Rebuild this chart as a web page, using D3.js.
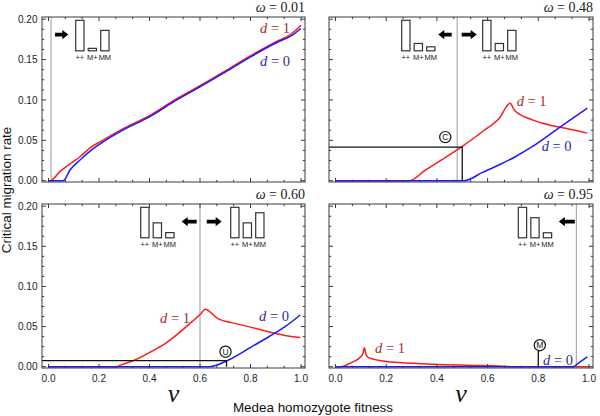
<!DOCTYPE html>
<html><head><meta charset="utf-8">
<script src="https://cdn.jsdelivr.net/npm/d3@7"></script>
<style>body{margin:0;background:#fff} svg{display:block}</style>
</head><body><svg id="c" width="600" height="416"></svg>
<script>
// ---------- data ----------
const omegas = [0.01, 0.48, 0.60, 0.95];
const omegaLabels = ["0.01", "0.48", "0.60", "0.95"];
const xTicks = [0, 0.2, 0.4, 0.6, 0.8, 1.0];
const yTicks = [0, 0.05, 0.10, 0.15, 0.20];

const p1Red = [[0,0],[0.006,0],[0.046,0.0115],[0.086,0.021],[0.126,0.030],[0.166,0.041],[0.206,0.0485],[0.30,0.065],[0.405,0.0815],[0.50,0.100],[0.605,0.1185],[0.70,0.136],[0.804,0.1556],[0.90,0.172],[0.964,0.1823],[1.0,0.1926]];
const p1Blue = [[0,0],[0.058,0],[0.086,0.0136],[0.126,0.026],[0.166,0.037],[0.206,0.046],[0.30,0.0635],[0.405,0.080],[0.50,0.0985],[0.605,0.117],[0.70,0.1345],[0.804,0.154],[0.90,0.1705],[0.964,0.180],[1.0,0.1885]];
const p2Red = [[0,0],[0.29,0],[0.357,0.0136],[0.42,0.026],[0.50,0.0424],[0.58,0.0609],[0.646,0.0774],[0.689,0.0959],[0.705,0.0877],[0.777,0.0753],[0.843,0.0691],[0.908,0.065],[0.993,0.0589]];
const p2Blue = [[0,0],[0.508,0],[0.58,0.0103],[0.646,0.0198],[0.711,0.030],[0.777,0.0424],[0.843,0.0568],[0.908,0.0712],[0.993,0.0898]];
const p3Red = [[0,0],[0.27,0],[0.285,0.0019],[0.339,0.008],[0.405,0.0185],[0.472,0.031],[0.538,0.0478],[0.605,0.0665],[0.62,0.0715],[0.671,0.060],[0.738,0.054],[0.804,0.049],[0.871,0.0435],[0.937,0.039],[0.997,0.0365]];
const p3Blue = [[0,0],[0.638,0],[0.711,0.0081],[0.804,0.0248],[0.871,0.037],[0.937,0.0498],[0.997,0.0644]];
const p4Red = [[0,0],[0.02,0],[0.068,0.006],[0.10,0.0123],[0.108,0.016],[0.114,0.0235],[0.12,0.016],[0.127,0.012],[0.186,0.0072],[0.252,0.0053],[0.383,0.0031],[0.515,0.0019],[0.646,0.001],[0.70,0],[1.0,0]];
const p4Blue = [[0,0],[0.937,0],[0.965,0.006],[0.993,0.0123]];

const redCurves = [p1Red, p2Red, p3Red, p4Red];
const blueCurves = [p1Blue, p2Blue, p3Blue, p4Blue];

const markerLetters = [null, "C", "U", "M"];
const markerNu = [null, 0.50, 0.705, 0.80];
const markerM = [null, 0.0416, 0.0075, 0];

const genotypes = ["++", "M+", "MM"];
const insetHeights = [
  [[1, 0.08, 0.67]],
  [[1, 0.24, 0.13], [1, 0.24, 0.67]],
  [[1, 0.49, 0.17], [1, 0.49, 0.82]],
  [[1, 0.66, 0.165]]
];

// ---------- layout ----------
const svg = d3.select("#c");
const frames = [
  {x0: 42, x1: 305, y0: 17, y1: 182},
  {x0: 329, x1: 593, y0: 17, y1: 182},
  {x0: 42, x1: 305, y0: 204, y1: 368},
  {x0: 329, x1: 593, y0: 204, y1: 368}
];
const insetOffsets = [[24.7], [-55.5, 25.5], [-59.3, 30.7], [-58]];
const arrowOffsets = [[[4, 17.3]], [[-5.5, -18.9], [4.5, 19.5]], [[-3.3, -18.3], [6.7, 21.7]], [[-1.5, -17.5]]];
const dLabelPos = [
  {d1: [260, 33], d0: [260, 66]},
  {d1: [516.7, 106], d0: [541.7, 151]},
  {d1: [160, 323], d0: [259, 321]},
  {d1: [375, 353], d0: [543, 364.5]}
];
const markerOffset = [null, [-17, -10], [-1, -9], [1.5, -21.5]];

const sans = "'Liberation Sans', Arial, Helvetica, sans-serif";
const serif = "'Liberation Serif', 'Times New Roman', serif";
const frameColor = "#3a3a3a";

function arrowPath(tail, tip, y) {
  const s = Math.sign(tip - tail), hl = 6, hh = 4.6, sh = 1.9;
  const b = tip - s * hl;
  return `M${tail},${y - sh}L${b},${y - sh}L${b},${y - hh}L${tip},${y}L${b},${y + hh}L${b},${y + sh}L${tail},${y + sh}Z`;
}

frames.forEach((f, i) => {
  const x = d3.scaleLinear().domain([0, 1]).range([f.x0 + 6.5, f.x1 - 4]);
  const y = d3.scaleLinear().domain([0, 0.2]).range([f.y1 - 1.3, f.y0 + 2.2]);
  const g = svg.append("g");

  // omega vertical line
  const lx = x(omegas[i]);
  g.append("line").attr("x1", lx).attr("x2", lx).attr("y1", f.y0).attr("y2", f.y1)
    .attr("stroke", "#9a9a9a").attr("stroke-width", 1);

  // curves
  const line = d3.line().x(d => x(d[0])).y(d => y(d[1])).curve(d3.curveMonotoneX);
  g.append("path").attr("d", line(redCurves[i])).attr("fill", "none")
    .attr("stroke", "#ff1a1a").attr("stroke-width", 1.5).attr("stroke-linejoin", "round");
  g.append("path").attr("d", line(blueCurves[i])).attr("fill", "none")
    .attr("stroke", "#1a1aff").attr("stroke-width", 1.5).attr("stroke-linejoin", "round");

  // markers
  if (markerLetters[i]) {
    const mx = x(markerNu[i]), my = y(markerM[i]);
    const off = markerOffset[i];
    const cx = mx + off[0], cy = my + off[1];
    if (markerM[i] > 0) {
      g.append("path").attr("d", `M${f.x0},${my}L${mx},${my}L${mx},${y(0)}`)
        .attr("fill", "none").attr("stroke", "#111").attr("stroke-width", 1.3);
    } else {
      g.append("line").attr("x1", mx).attr("x2", mx).attr("y1", y(0)).attr("y2", cy + 5.5)
        .attr("stroke", "#111").attr("stroke-width", 1.3);
    }
    g.append("circle").attr("cx", cx).attr("cy", cy).attr("r", 5.6)
      .attr("fill", "#fff").attr("stroke", "#111").attr("stroke-width", 1.2);
    g.append("text").attr("x", cx).attr("y", cy + 3).attr("text-anchor", "middle")
      .attr("font-family", sans).attr("font-size", 8.5).attr("fill", "#111").text(markerLetters[i]);
  }

  // frame
  g.append("rect").attr("x", f.x0).attr("y", f.y0).attr("width", f.x1 - f.x0).attr("height", f.y1 - f.y0)
    .attr("fill", "none").attr("stroke", frameColor).attr("stroke-width", 1);

  // ticks
  const xt = d3.range(0, 16).map(k => ({v: k / 15, major: k % 3 === 0}));
  xt.forEach(t => {
    const len = t.major ? 4 : 2.2, px = x(t.v);
    g.append("line").attr("x1", px).attr("x2", px).attr("y1", f.y1).attr("y2", f.y1 - len).attr("stroke", frameColor);
    g.append("line").attr("x1", px).attr("x2", px).attr("y1", f.y0).attr("y2", f.y0 + len).attr("stroke", frameColor);
  });
  const yt = d3.range(0, 17).map(k => ({v: k * 0.0125, major: k % 4 === 0}));
  yt.forEach(t => {
    const len = t.major ? 4 : 2.2, py = y(t.v);
    g.append("line").attr("x1", f.x0).attr("x2", f.x0 + len).attr("y1", py).attr("y2", py).attr("stroke", frameColor);
    g.append("line").attr("x1", f.x1).attr("x2", f.x1 - len).attr("y1", py).attr("y2", py).attr("stroke", frameColor);
  });

  // tick labels
  if (i % 2 === 0) {
    yTicks.forEach(v => {
      g.append("text").attr("x", f.x0 - 4.5).attr("y", y(v) + 3.6).attr("text-anchor", "end")
        .attr("font-family", sans).attr("font-size", 10).attr("fill", "#222").text(v.toFixed(2));
    });
  }
  if (i >= 2) {
    xTicks.forEach(v => {
      g.append("text").attr("x", x(v)).attr("y", f.y1 + 14).attr("text-anchor", "middle")
        .attr("font-family", sans).attr("font-size", 10).attr("fill", "#222").text(v.toFixed(1));
    });
    g.append("text").attr("x", (f.x0 + f.x1) / 2).attr("y", 402).attr("text-anchor", "middle")
      .attr("font-family", serif).attr("font-style", "italic").attr("font-size", 26).attr("fill", "#111").text("ν");
  }

  // omega label
  const ot = g.append("text").attr("x", f.x1).attr("y", f.y0 - 5.5).attr("text-anchor", "end")
    .attr("font-family", serif).attr("font-size", 14).attr("fill", "#222");
  ot.append("tspan").attr("font-style", "italic").text("ω");
  ot.append("tspan").text(" = " + omegaLabels[i]);

  // d labels
  const lp = dLabelPos[i];
  [["1", lp.d1, "#a8292b"], ["0", lp.d0, "#2b2ba6"]].forEach(([v, p, c]) => {
    const t = g.append("text").attr("x", p[0]).attr("y", p[1]).attr("font-family", serif)
      .attr("font-size", 14.5).attr("fill", c);
    t.append("tspan").attr("font-style", "italic").text("d");
    t.append("tspan").text(" = " + v);
  });

  // insets
  const barBottom = f.y0 + 33.8, barMax = 30.5, barW = 8.3, step = 12.5;
  insetHeights[i].forEach((hs, j) => {
    const bx0 = lx + insetOffsets[i][j];
    const hScale = d3.scaleLinear().domain([0, 1]).range([0, barMax]);
    hs.forEach((h, k) => {
      const bx = bx0 + k * step;
      g.append("rect").attr("x", bx).attr("y", barBottom - hScale(h)).attr("width", barW)
        .attr("height", hScale(h)).attr("fill", "#fff").attr("stroke", "#333").attr("stroke-width", 1.2);
      g.append("text").attr("x", bx + barW / 2).attr("y", barBottom + 9.5).attr("text-anchor", "middle")
        .attr("font-family", sans).attr("font-size", 7.5).attr("fill", "#222").text(genotypes[k]);
    });
  });
  arrowOffsets[i].forEach(a => {
    g.append("path").attr("d", arrowPath(lx + a[0], lx + a[1], f.y0 + 17.6)).attr("fill", "#000");
  });
});

// axis titles
svg.append("text").attr("transform", "translate(11,190) rotate(-90)").attr("text-anchor", "middle")
  .attr("font-family", sans).attr("font-size", 13.4).attr("fill", "#111").text("Critical migration rate");
svg.append("text").attr("x", 313).attr("y", 412).attr("text-anchor", "middle")
  .attr("font-family", sans).attr("font-size", 13.4).attr("fill", "#111").text("Medea homozygote fitness");
</script></body></html>
